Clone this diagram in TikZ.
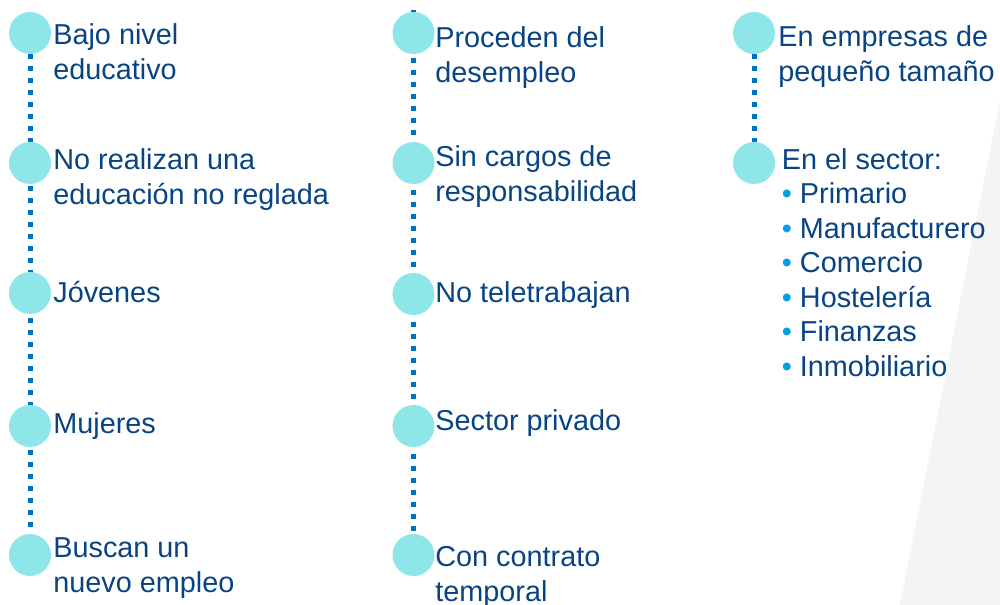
\documentclass[tikz,border=0pt]{standalone}
\usepackage{fontspec}
\setmainfont{Liberation Sans}
\usetikzlibrary{backgrounds}
\definecolor{dotblue}{RGB}{0,112,192}
\definecolor{dotcyan}{RGB}{142,230,233}
\definecolor{txtblue}{RGB}{8,68,130}
\definecolor{bulblue}{RGB}{0,160,227}
\definecolor{bggray}{RGB}{244,244,244}
\newcommand{\bul}{{\color{bulblue}\textbullet}~}

\begin{document}
\begin{tikzpicture}[
		dot/.style={circle, fill=dotcyan, minimum size=0.84cm, inner sep=0pt},
		txt/.style={anchor=base west, align=left, inner sep=0pt, text=txtblue, font=\fontsize{16.4}{19.6}\selectfont},
		link/.style={dotblue, line width=0.1cm, dash pattern=on 0.1cm off 0.14cm}
	]
	\useasboundingbox (0,0) rectangle (20,-12.1);

	% First column (text nodes sit on their last line)
	\node[dot] (edu) at (0.6,-0.66) {};
	\node[dot] (nored) at (0.6,-3.26) {};
	\node[dot] (jov) at (0.6,-5.86) {};
	\node[dot] (muj) at (0.6,-8.52) {};
	\node[dot] (busc) at (0.6,-11.1) {};
	\node[txt] (t-edu) at (1.06,-1.588) {Bajo nivel\\educativo};
	\node[txt] (t-nored) at (1.06,-4.088) {No realizan una\\educación no reglada};
	\node[txt] (t-jov) at (1.06,-6.04) {Jóvenes};
	\node[txt] (t-muj) at (1.06,-8.66) {Mujeres};
	\node[txt] (t-busc) at (1.06,-11.848) {Buscan un\\nuevo empleo};

	% Second column
	\coordinate (top2) at (8.27,-0.2);
	\node[dot] (desem) at (8.27,-0.66) {};
	\node[dot] (cargo) at (8.27,-3.26) {};
	\node[dot] (tele) at (8.27,-5.88) {};
	\node[dot] (priv) at (8.27,-8.52) {};
	\node[dot] (temp) at (8.27,-11.1) {};
	\node[txt] (t-desem) at (8.7,-1.648) {Proceden del\\desempleo};
	\node[txt] (t-cargo) at (8.7,-4.028) {Sin cargos de\\responsabilidad};
	\node[txt] (t-tele) at (8.7,-6.04) {No teletrabajan};
	\node[txt] (t-priv) at (8.7,-8.60) {Sector privado};
	\node[txt] (t-temp) at (8.7,-12.028) {Con contrato\\temporal};

	% Third column
	\node[dot] (peq) at (15.08,-0.66) {};
	\node[dot] (sect) at (15.08,-3.26) {};
	\node[txt] (t-peq) at (15.56,-1.628) {En empresas de\\pequeño tamaño};
	\node[txt] (t-sect) at (15.63,-7.52) {En el sector:\\\bul Primario\\\bul Manufacturero\\\bul Comercio\\\bul Hostelería\\\bul Finanzas\\\bul Inmobiliario};

	% Dotted links
	\begin{scope}[on background layer]
		\fill[bggray] (20,-1.98) -- (18,-12.1) -- (20,-12.1) -- cycle;
		\draw[link] (edu) -- (busc);
		\draw[link] (top2) -- (temp);
		\draw[link] (peq) -- (sect);
	\end{scope}
\end{tikzpicture}
\end{document}
